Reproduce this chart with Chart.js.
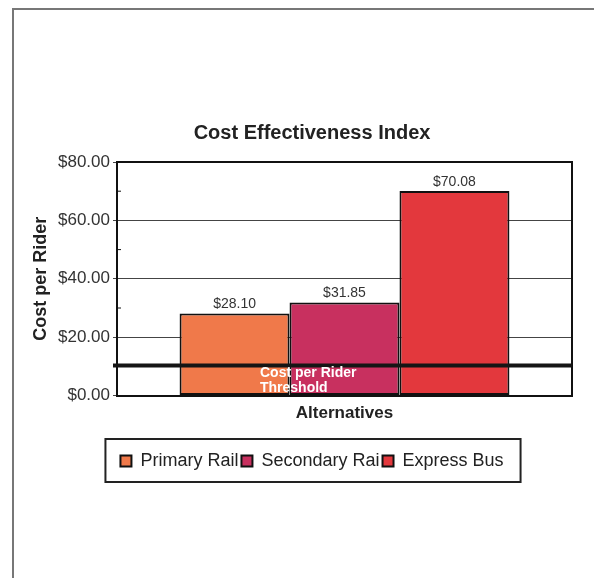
<!DOCTYPE html>
<html>
<head>
<meta charset="utf-8">
<script src="https://cdn.jsdelivr.net/npm/chart.js"></script>
<style>
  html, body { margin: 0; padding: 0; background: #fff; }
</style>
</head>
<body>
<canvas id="myChart" width="594" height="578"></canvas>
<script>
// DATA
const categories = ['Alternatives'];
const seriesNames = ['Primary Rail', 'Secondary Rai', 'Express Bus'];
const seriesValues = [28.10, 31.85, 70.08];
const yTicks = [0, 20, 40, 60, 80];
const threshold = 10.3;
const thresholdLabel = ['Cost per Rider', 'Threshold'];

// STYLE
const seriesColors = ['#f0794a', '#c8305f', '#e3383d'];
const FONT = 'Arial, "Liberation Sans", sans-serif';

const extras = {
  id: 'extras',
  afterDatasetsDraw(chart) {
    const ctx = chart.ctx;
    const a = chart.chartArea;
    const y = chart.scales.y;
    ctx.save();
    // value labels above bars
    ctx.font = '14px ' + FONT;
    ctx.fillStyle = '#333';
    ctx.textAlign = 'center';
    ctx.textBaseline = 'bottom';
    chart.data.datasets.forEach((ds, i) => {
      const bar = chart.getDatasetMeta(i).data[0];
      ctx.fillText('$' + ds.data[0].toFixed(2), bar.x, bar.y - 2);
    });
    // plot frame top / right
    ctx.strokeStyle = '#111';
    ctx.lineWidth = 2;
    ctx.beginPath();
    ctx.moveTo(a.left, a.top);
    ctx.lineTo(a.right, a.top);
    ctx.lineTo(a.right, a.bottom);
    ctx.stroke();
    // minor ticks inside left axis
    ctx.lineWidth = 1;
    for (let i = 0; i < yTicks.length - 1; i++) {
      const py = y.getPixelForValue((yTicks[i] + yTicks[i + 1]) / 2);
      ctx.beginPath();
      ctx.moveTo(a.left, py);
      ctx.lineTo(a.left + 4, py);
      ctx.stroke();
    }
    // threshold line
    const ty = y.getPixelForValue(threshold);
    ctx.strokeStyle = '#151515';
    ctx.lineWidth = 4;
    ctx.beginPath();
    ctx.moveTo(a.left - 4, ty);
    ctx.lineTo(a.right, ty);
    ctx.stroke();
    ctx.font = 'bold 14px ' + FONT;
    ctx.fillStyle = '#fff';
    ctx.textAlign = 'left';
    ctx.textBaseline = 'middle';
    ctx.fillText(thresholdLabel[0], a.left + 143, ty + 8);
    ctx.fillText(thresholdLabel[1], a.left + 143, ty + 23);
    ctx.restore();
  },
  afterDraw(chart) {
    const ctx = chart.ctx;
    ctx.save();
    // legend border
    const hb = chart.legend.legendHitBoxes;
    if (hb && hb.length) {
      const first = hb[0], last = hb[hb.length - 1];
      const cy = first.top + first.height / 2;
      ctx.strokeStyle = '#222';
      ctx.lineWidth = 2;
      ctx.strokeRect(first.left - 15, cy - 22, last.left + last.width + 17 - (first.left - 15), 43);
    }
    // page frame
    ctx.strokeStyle = '#777';
    ctx.lineWidth = 2;
    ctx.beginPath();
    ctx.moveTo(13, 578);
    ctx.lineTo(13, 9);
    ctx.lineTo(594, 9);
    ctx.stroke();
    ctx.restore();
  }
};

const data = {
  labels: categories,
  datasets: seriesNames.map((name, i) => ({
    label: name,
    data: [seriesValues[i]],
    backgroundColor: seriesColors[i],
    borderColor: '#111',
    borderWidth: 2,
    borderSkipped: false,
    barPercentage: 1,
    categoryPercentage: 0.725
  }))
};

const config = {
  type: 'bar',
  data: data,
  plugins: [extras],
  options: {
    responsive: false,
    animation: false,
    layout: { padding: { left: 30, right: 0, top: 0, bottom: 98 } },
    plugins: {
      title: {
        display: true,
        text: 'Cost Effectiveness Index',
        color: '#222',
        font: { size: 20, weight: 'bold', family: FONT },
        padding: { top: 121, bottom: 17 }
      },
      legend: {
        position: 'bottom',
        labels: {
          boxWidth: 11,
          boxHeight: 11,
          padding: 3,
          color: '#222',
          font: { size: 18, family: FONT }
        }
      },
      tooltip: { enabled: false }
    },
    scales: {
      x: {
        grid: { display: false, drawTicks: false },
        border: { color: '#111', width: 2 },
        ticks: { display: false },
        title: {
          display: true,
          text: 'Alternatives',
          color: '#222',
          font: { size: 17, weight: 'bold', family: FONT },
          padding: { top: 8, bottom: 25 }
        }
      },
      y: {
        min: yTicks[0],
        max: yTicks[yTicks.length - 1],
        ticks: {
          stepSize: yTicks[1] - yTicks[0],
          padding: 3,
          color: '#333',
          font: { size: 17, family: FONT },
          callback: v => '$' + v.toFixed(2)
        },
        grid: { color: '#444', lineWidth: 1, tickLength: 4 },
        border: { color: '#111', width: 2 },
        title: {
          display: true,
          text: 'Cost per Rider',
          color: '#222',
          font: { size: 18, weight: 'bold', family: FONT },
          padding: { top: 0, bottom: 0 }
        },
        afterFit(s) { s.width = 87; }
      },
      yR: {
        position: 'right',
        display: true,
        grid: { display: false, drawTicks: false },
        border: { display: false },
        ticks: { display: false },
        afterFit(s) { s.width = 22; }
      }
    }
  }
};

var myChart = new Chart(document.getElementById('myChart'), config);
</script>
</body>
</html>
